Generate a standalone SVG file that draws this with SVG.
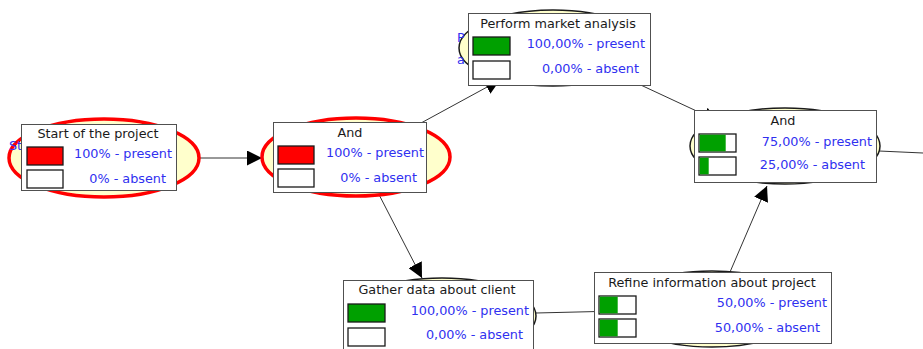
<svg xmlns="http://www.w3.org/2000/svg" width="923" height="349" viewBox="0 0 923 349">
<style>
.bg{fill:#ffffff}
.ell{fill:#ffffcc;stroke:#1a1a1a;stroke-width:1.5}
.ell-sel{fill:#ffffcc;stroke:#ff0000;stroke-width:3.5}
.box{fill:#ffffff;stroke:#505050;stroke-width:1}
.bar{fill:#ffffff;stroke:#1a1a1a;stroke-width:1.3}
.red{fill:#ff0000}
.green{fill:#00a000}
.title{font-family:"DejaVu Sans",Verdana,sans-serif;font-size:12.8px;fill:#1a1a1a;text-anchor:middle}
.val{font-family:"DejaVu Sans",Verdana,sans-serif;font-size:12.8px;fill:#3030f0;text-anchor:end}
.frag{font-family:"DejaVu Sans",Verdana,sans-serif;font-size:12.8px;fill:#3030f0}
.edge{fill:none;stroke:#333333;stroke-width:1}
</style>
<defs>
<marker id="arrow" markerUnits="userSpaceOnUse" markerWidth="15" markerHeight="15" refX="15" refY="7.5" orient="auto">
<path d="M0,0 L15,7.5 L0,15 Z" fill="#000000"/>
</marker>
</defs>
<rect class="bg" x="0" y="0" width="923" height="349"/>
<g id="connectors">
<line class="edge" x1="199" y1="158" x2="262" y2="158" marker-end="url(#arrow)"/>
<line class="edge" x1="410" y1="129" x2="500" y2="80" marker-end="url(#arrow)"/>
<line class="edge" x1="372" y1="181" x2="422" y2="278" marker-end="url(#arrow)"/>
<line class="edge" x1="630" y1="80" x2="718" y2="121" marker-end="url(#arrow)"/>
<line class="edge" x1="724" y1="286" x2="767" y2="186" marker-end="url(#arrow)"/>
<line class="edge" x1="536" y1="313" x2="618" y2="311" marker-end="url(#arrow)"/>
<line class="edge" x1="879" y1="151" x2="923" y2="153"/>
</g>
<g id="node-start">
<ellipse class="ell-sel" cx="104" cy="158" rx="95" ry="39"/>
<text class="frag" x="9" y="150">St</text>
<rect class="box" x="21.5" y="124.5" width="155" height="66"/>
<text class="title" x="98" y="138">Start of the project</text>
<rect class="bar red" x="27" y="147" width="36" height="18"/>
<rect class="bar" x="27" y="170" width="36" height="18"/>
<text class="val" x="172" y="158">100% - present</text>
<text class="val" x="166" y="183">0% - absent</text>
</g>
<g id="node-and1">
<ellipse class="ell-sel" cx="356" cy="157" rx="94" ry="39"/>
<rect class="box" x="273.5" y="122.5" width="153" height="70"/>
<text class="title" x="350" y="137">And</text>
<rect class="bar red" x="278" y="146" width="36" height="18"/>
<rect class="bar" x="278" y="169" width="36" height="18"/>
<text class="val" x="424" y="157">100% - present</text>
<text class="val" x="417" y="182">0% - absent</text>
</g>
<g id="node-market">
<ellipse class="ell" cx="553" cy="48" rx="94" ry="38"/>
<text class="frag" x="457" y="42">P</text>
<text class="frag" x="457" y="64">a</text>
<rect class="box" x="468.5" y="13.5" width="182" height="72"/>
<text class="title" x="558" y="28">Perform market analysis</text>
<rect class="bar green" x="473" y="37" width="37" height="18"/>
<rect class="bar" x="473" y="61" width="37" height="18"/>
<text class="val" x="645" y="48">100,00% - present</text>
<text class="val" x="639" y="73">0,00% - absent</text>
</g>
<g id="node-and2">
<ellipse class="ell" cx="785" cy="146" rx="95" ry="38"/>
<rect class="box" x="694.5" y="110.5" width="182" height="72"/>
<text class="title" x="783" y="125">And</text>
<rect class="bar" x="699" y="134" width="37" height="18"/>
<rect class="green" x="699.7" y="134.7" width="26" height="16.6"/>
<rect class="bar" x="699" y="157" width="37" height="18"/>
<rect class="green" x="699.7" y="157.7" width="9" height="16.6"/>
<text class="val" x="872" y="146">75,00% - present</text>
<text class="val" x="865" y="169">25,00% - absent</text>
</g>
<g id="node-gather">
<ellipse class="ell" cx="442" cy="316" rx="94" ry="38"/>
<rect class="box" x="343.5" y="280.5" width="190" height="80"/>
<text class="title" x="437" y="294">Gather data about client</text>
<rect class="bar green" x="348" y="304" width="37" height="18"/>
<rect class="bar" x="348" y="328" width="37" height="18"/>
<text class="val" x="529" y="315">100,00% - present</text>
<text class="val" x="523" y="339">0,00% - absent</text>
</g>
<g id="node-refine">
<ellipse class="ell" cx="712" cy="309" rx="94" ry="38"/>
<rect class="box" x="594.5" y="272.5" width="237" height="71"/>
<text class="title" x="712" y="287">Refine information about project</text>
<rect class="bar" x="599" y="296" width="37" height="18"/>
<rect class="green" x="599.7" y="296.7" width="18" height="16.6"/>
<rect class="bar" x="599" y="319" width="37" height="18"/>
<rect class="green" x="599.7" y="319.7" width="18" height="16.6"/>
<text class="val" x="827" y="307">50,00% - present</text>
<text class="val" x="820" y="332">50,00% - absent</text>
</g>
</svg>
